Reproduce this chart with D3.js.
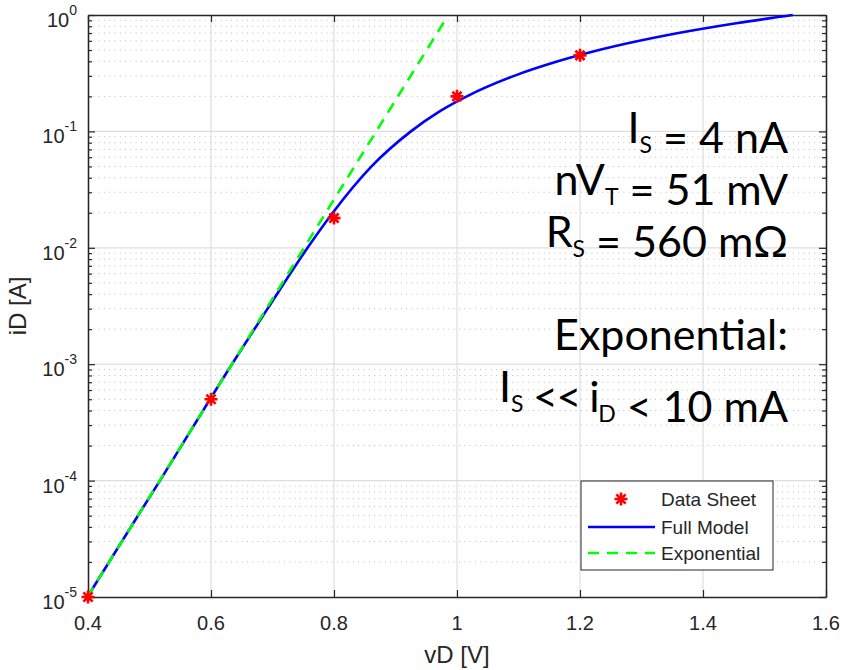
<!DOCTYPE html>
<html>
<head>
<meta charset="utf-8">
<script src="https://cdn.jsdelivr.net/npm/d3@7"></script>
<style>
  body { margin: 0; background: #fff; }
  text { font-family: Arial, 'Liberation Sans', sans-serif; }
</style>
</head>
<body>
<div id="chart"></div>
<script>
// data sheet points
const sheetV = [0.4, 0.6, 0.8, 1.0, 1.2]
const sheetI = [1e-5, 5e-4, 1.8e-2, 0.2, 0.45]

// full model curve
const modelV = [0.399, 0.455, 0.517, 0.634, 0.692, 0.757, 0.798, 0.861, 0.925, 0.973, 1.016, 1.093, 1.164, 1.231, 1.36, 1.454, 1.546]
const modelI = [1e-5, 3e-5, 1e-4, 1e-3, 3e-3, 1e-2, 2e-2, 5e-2, 0.1, 0.15, 0.2, 0.3, 0.4, 0.5, 0.7, 0.85, 1.0]

// exponential line
const expV = [0.399, 0.634, 0.98]
const expI = [1e-5, 1e-3, 0.89]

const xTicks = [0.4, 0.6, 0.8, 1, 1.2, 1.4, 1.6]
const yDecades = [-5, -4, -3, -2, -1, 0]
const legendLabels = ['Data Sheet', 'Full Model', 'Exponential']

let margin = { top: 15, left: 88, right: 18, bottom: 73 }
let width = 844 - margin.left - margin.right
let height = 670 - margin.top - margin.bottom

let svg = d3
  .select('#chart')
  .append('svg')
  .attr('width', 844)
  .attr('height', 670)
  .append('g')
  .attr('transform', 'translate(' + margin.left + ',' + margin.top + ')')

let xScale = d3.scaleLinear().domain([0.4, 1.6]).range([0, width])
let yScale = d3.scaleLog().domain([1e-5, 1]).range([height, 0])

let axisColor = '#262626'

// minor values 2..9 x 10^d
let minorVals = []
yDecades.slice(0, -1).forEach(d => {
  for (let k = 2; k <= 9; k++) minorVals.push(k * Math.pow(10, d))
})
let majorVals = yDecades.map(d => Math.pow(10, d))

// minor grid (dotted)
svg
  .selectAll('.minor-grid')
  .data(minorVals)
  .enter()
  .append('line')
  .attr('x1', 0)
  .attr('x2', width)
  .attr('y1', d => yScale(d))
  .attr('y2', d => yScale(d))
  .attr('stroke', '#bcbcbc')
  .attr('stroke-width', 1)
  .attr('stroke-dasharray', '1,4.3')

// major grid
svg
  .selectAll('.xgrid')
  .data(xTicks.slice(1, -1))
  .enter()
  .append('line')
  .attr('x1', d => xScale(d))
  .attr('x2', d => xScale(d))
  .attr('y1', 0)
  .attr('y2', height)
  .attr('stroke', '#dedede')
  .attr('stroke-width', 1.2)

svg
  .selectAll('.ygrid')
  .data(majorVals.slice(1, -1))
  .enter()
  .append('line')
  .attr('x1', 0)
  .attr('x2', width)
  .attr('y1', d => yScale(d))
  .attr('y2', d => yScale(d))
  .attr('stroke', '#dedede')
  .attr('stroke-width', 1.2)

// axes with inward ticks
let xBottom = d3.axisBottom(xScale).tickValues(xTicks).tickSizeInner(-7).tickSizeOuter(0).tickFormat('')
let xTop = d3.axisTop(xScale).tickValues(xTicks).tickSizeInner(-7).tickSizeOuter(0).tickFormat('')
let yLeftMajor = d3.axisLeft(yScale).tickValues(majorVals).tickSizeInner(-7).tickSizeOuter(0).tickFormat('')
let yLeftMinor = d3.axisLeft(yScale).tickValues(minorVals).tickSizeInner(-4).tickSizeOuter(0).tickFormat('')
let yRightMajor = d3.axisRight(yScale).tickValues(majorVals).tickSizeInner(-7).tickSizeOuter(0).tickFormat('')
let yRightMinor = d3.axisRight(yScale).tickValues(minorVals).tickSizeInner(-4).tickSizeOuter(0).tickFormat('')

svg.append('g').attr('transform', 'translate(0,' + height + ')').call(xBottom)
svg.append('g').call(xTop)
svg.append('g').call(yLeftMajor)
svg.append('g').call(yLeftMinor)
svg.append('g').attr('transform', 'translate(' + width + ',0)').call(yRightMajor)
svg.append('g').attr('transform', 'translate(' + width + ',0)').call(yRightMinor)

svg.selectAll('.domain').attr('stroke', axisColor).attr('stroke-width', 1.3)
svg.selectAll('.tick line').attr('stroke', axisColor).attr('stroke-width', 1.2)

// tick labels
svg
  .selectAll('.xlabel')
  .data(xTicks)
  .enter()
  .append('text')
  .attr('x', d => xScale(d))
  .attr('y', height + 33)
  .attr('text-anchor', 'middle')
  .attr('font-size', 20)
  .attr('fill', axisColor)
  .text(d => d)

let yLabels = svg
  .selectAll('.ylabel')
  .data(yDecades)
  .enter()
  .append('text')
  .attr('x', -11)
  .attr('y', d => yScale(Math.pow(10, d)) + 12)
  .attr('text-anchor', 'end')
  .attr('font-size', 20)
  .attr('fill', axisColor)
yLabels.append('tspan').text('10')
yLabels
  .append('tspan')
  .attr('font-size', 14)
  .attr('dy', -12)
  .text(d => (d < 0 ? '-' + -d : d))

// axis titles
svg
  .append('text')
  .attr('x', width / 2)
  .attr('y', height + 66)
  .attr('text-anchor', 'middle')
  .attr('font-size', 24)
  .attr('fill', axisColor)
  .text('vD [V]')

svg
  .append('text')
  .attr('transform', 'translate(' + (26 - margin.left) + ',' + height / 2 + ') rotate(-90)')
  .attr('text-anchor', 'middle')
  .attr('font-size', 24)
  .attr('fill', axisColor)
  .text('iD [A]')

// lines
let line = d3
  .line()
  .x(d => xScale(d[0]))
  .y(d => yScale(d[1]))

let modelData = modelV.map((v, i) => [v, modelI[i]])
let expData = expV.map((v, i) => [v, expI[i]])

svg
  .append('path')
  .datum(modelData)
  .attr('d', line.curve(d3.curveMonotoneX))
  .attr('fill', 'none')
  .attr('stroke', '#0000ff')
  .attr('stroke-width', 2.6)

svg
  .append('path')
  .datum(expData)
  .attr('d', d3.line().x(d => xScale(d[0])).y(d => yScale(d[1])))
  .attr('fill', 'none')
  .attr('stroke', '#00ff00')
  .attr('stroke-width', 2.6)
  .attr('stroke-dasharray', '11,8')

// asterisk marker
function asterisk(r) {
  let p = d3.path()
  for (let a = 0; a < 4; a++) {
    let ang = (a * Math.PI) / 4
    p.moveTo(-r * Math.cos(ang), -r * Math.sin(ang))
    p.lineTo(r * Math.cos(ang), r * Math.sin(ang))
  }
  return p.toString()
}

svg
  .selectAll('.marker')
  .data(sheetV.map((v, i) => [v, sheetI[i]]))
  .enter()
  .append('path')
  .attr('d', asterisk(6.5))
  .attr('transform', d => 'translate(' + xScale(d[0]) + ',' + yScale(d[1]) + ')')
  .attr('stroke', '#ff0000')
  .attr('stroke-width', 2.6)

// annotation
let annot = svg
  .append('g')
  .attr('font-size', 43)
  .attr('fill', '#000')
let annX = 788 - margin.left

function annLine(y, parts) {
  let t = annot
    .append('text')
    .attr('x', annX)
    .attr('y', y - margin.top)
    .attr('text-anchor', 'end')
    .style('font-family', 'Lato, sans-serif')
  parts.forEach(p => {
    if (p.sub) {
      t.append('tspan').attr('font-size', 23).attr('dy', 10).text(p.sub)
      t.append('tspan').attr('dy', -10).text('')
    } else {
      t.append('tspan').attr('letter-spacing', p.ls || 0).text(p.t)
    }
  })
}
annLine(143, [{ t: 'I' }, { sub: 'S' }, { t: ' = 4 nA' }])
annLine(195, [{ t: 'nV' }, { sub: 'T' }, { t: ' = 51 mV' }])
annLine(247, [{ t: 'R' }, { sub: 'S' }, { t: ' = 560 mΩ' }])
annLine(350, [{ t: 'Exponential:' }])
annLine(402, [{ t: 'I' }, { sub: 'S' }, { t: ' << i', ls: -1.5 }, { sub: 'D' }, { t: ' < 10 mA' }])

// legend
let lg = svg.append('g').attr('transform', 'translate(' + (581 - margin.left) + ',' + (481 - margin.top) + ')')
lg.append('rect')
  .attr('width', 192)
  .attr('height', 89)
  .attr('fill', '#fff')
  .attr('stroke', axisColor)
  .attr('stroke-width', 1)

let rowY = [18, 46, 72]
lg.selectAll('.lgtext')
  .data(legendLabels)
  .enter()
  .append('text')
  .attr('x', 80)
  .attr('y', (d, i) => rowY[i] + 7)
  .attr('font-size', 19)
  .attr('fill', axisColor)
  .text(d => d)

lg.append('path')
  .attr('d', asterisk(6.5))
  .attr('transform', 'translate(40,' + rowY[0] + ')')
  .attr('stroke', '#ff0000')
  .attr('stroke-width', 2.6)

lg.append('line')
  .attr('x1', 7).attr('x2', 74)
  .attr('y1', rowY[1]).attr('y2', rowY[1])
  .attr('stroke', '#0000ff')
  .attr('stroke-width', 2.6)

lg.append('line')
  .attr('x1', 7).attr('x2', 74)
  .attr('y1', rowY[2]).attr('y2', rowY[2])
  .attr('stroke', '#00ff00')
  .attr('stroke-width', 2.6)
  .attr('stroke-dasharray', '11,8')
</script>
</body>
</html>
